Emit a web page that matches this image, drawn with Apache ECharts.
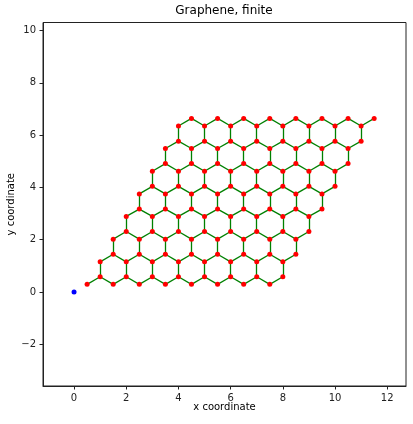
<!DOCTYPE html>
<html>
<head>
<meta charset="utf-8">
<script src="https://cdn.jsdelivr.net/npm/echarts@6/dist/echarts.min.js"></script>
<style>
  html, body { margin: 0; padding: 0; background: #fff; }
  #main { width: 413px; height: 424px; }
</style>
</head>
<body>
<div id="main"></div>
<script>
// atom rows: y of each row, then the x of its atoms
var rowY = [0.29, 0.58, 1.15, 1.44, 2.02, 2.31, 2.89, 3.17,
            3.75, 4.04, 4.62, 4.91, 5.49, 5.77, 6.35, 6.64];
var rowX = [
    [0.5, 1.5, 2.5, 3.5, 4.5, 5.5, 6.5, 7.5],
    [1, 2, 3, 4, 5, 6, 7, 8],
    [1, 2, 3, 4, 5, 6, 7, 8],
    [1.5, 2.5, 3.5, 4.5, 5.5, 6.5, 7.5, 8.5],
    [1.5, 2.5, 3.5, 4.5, 5.5, 6.5, 7.5, 8.5],
    [2, 3, 4, 5, 6, 7, 8, 9],
    [2, 3, 4, 5, 6, 7, 8, 9],
    [2.5, 3.5, 4.5, 5.5, 6.5, 7.5, 8.5, 9.5],
    [2.5, 3.5, 4.5, 5.5, 6.5, 7.5, 8.5, 9.5],
    [3, 4, 5, 6, 7, 8, 9, 10],
    [3, 4, 5, 6, 7, 8, 9, 10],
    [3.5, 4.5, 5.5, 6.5, 7.5, 8.5, 9.5, 10.5],
    [3.5, 4.5, 5.5, 6.5, 7.5, 8.5, 9.5, 10.5],
    [4, 5, 6, 7, 8, 9, 10, 11],
    [4, 5, 6, 7, 8, 9, 10, 11],
    [4.5, 5.5, 6.5, 7.5, 8.5, 9.5, 10.5, 11.5]
];
var origin = [[0, 0]];
var xTicks = [0, 2, 4, 6, 8, 10, 12];
var yTicks = [-2, 0, 2, 4, 6, 8, 10];

var atoms = [];
rowY.forEach(function (y, r) {
    rowX[r].forEach(function (x) {
        atoms.push([x, y]);
    });
});

// bonds = nearest neighbours (bond length ~0.58, next shell is 1.0)
var bonds = [];
for (var i = 0; i < atoms.length; i++) {
    for (var j = i + 1; j < atoms.length; j++) {
        var dx = atoms[i][0] - atoms[j][0];
        var dy = atoms[i][1] - atoms[j][1];
        if (Math.sqrt(dx * dx + dy * dy) < 0.8) {
            bonds.push({ coords: [atoms[i], atoms[j]] });
        }
    }
}

var chartDom = document.getElementById('main');
var myChart = echarts.init(chartDom, null, { renderer: 'canvas' });
var font = 'DejaVu Sans';
var option;

option = {
    animation: false,
    textStyle: { fontFamily: font },
    title: {
        text: 'Graphene, finite',
        left: 224,
        top: 5,
        padding: 0,
        textAlign: 'center',
        textStyle: { fontFamily: font, fontSize: 12, fontWeight: 'normal', color: '#000' }
    },
    grid: {
        left: 43,
        right: 7,
        top: 22.5,
        bottom: 38,
        outerBoundsMode: 'none',
        show: true,
        borderColor: '#222',
        borderWidth: 1
    },
    xAxis: {
        type: 'value',
        min: -1.19,
        max: 12.72,
        name: 'x coordinate',
        nameLocation: 'middle',
        nameGap: 16,
        nameMoveOverlap: false,
        nameTextStyle: { fontFamily: font, fontSize: 10, color: '#000' },
        splitLine: { show: false },
        axisLine: { show: true, onZero: false, lineStyle: { color: '#222', width: 1 } },
        axisTick: { show: true, length: 3.5, customValues: xTicks, lineStyle: { color: '#222' } },
        axisLabel: { customValues: xTicks, margin: 7, fontFamily: font, fontSize: 10, color: '#222' }
    },
    yAxis: {
        type: 'value',
        min: -3.6,
        max: 10.31,
        name: 'y coordinate',
        nameLocation: 'middle',
        nameGap: 27,
        nameMoveOverlap: false,
        nameTextStyle: { fontFamily: font, fontSize: 10, color: '#000' },
        splitLine: { show: false },
        axisLine: { show: true, onZero: false, lineStyle: { color: '#222', width: 1 } },
        axisTick: { show: true, length: 3.5, customValues: yTicks, lineStyle: { color: '#222' } },
        axisLabel: {
            customValues: yTicks, margin: 7, fontFamily: font, fontSize: 10, color: '#222',
            formatter: function (v) { return v < 0 ? '\u2212' + Math.abs(v) : String(v); }
        }
    },
    series: [
        {
            type: 'lines',
            coordinateSystem: 'cartesian2d',
            data: bonds,
            silent: true,
            lineStyle: { color: '#008000', width: 1.3, opacity: 1 },
            z: 2
        },
        {
            type: 'scatter',
            data: atoms,
            symbolSize: 5,
            itemStyle: { color: '#ff0000', opacity: 1 },
            z: 3
        },
        {
            type: 'scatter',
            data: origin,
            symbolSize: 5,
            itemStyle: { color: '#0000ff', opacity: 1 },
            z: 3
        }
    ]
};

option && myChart.setOption(option);
</script>
</body>
</html>
